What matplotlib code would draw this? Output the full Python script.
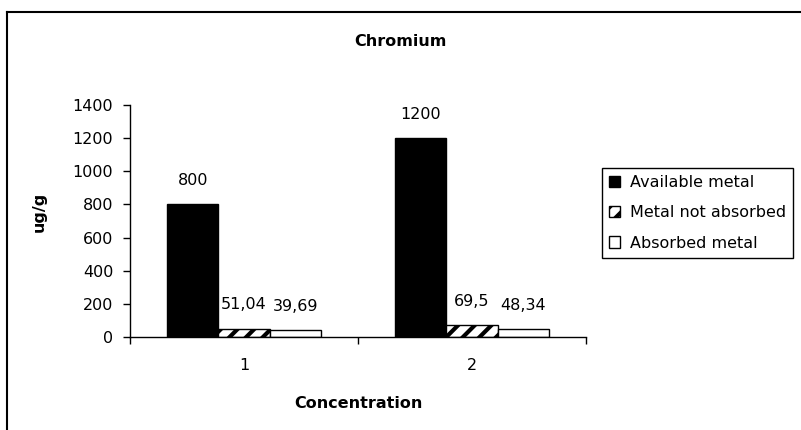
import matplotlib.pyplot as plt
import numpy as np

plt.rcParams['font.family'] = ['DejaVu Sans']
plt.rcParams['hatch.linewidth'] = 3

# Data
categories = ['1', '2']
available = [800, 1200]
not_absorbed = [51.04, 69.5]
absorbed = [39.69, 48.34]
series_names = ['Available metal', 'Metal not absorbed', 'Absorbed metal']

fig = plt.figure(figsize=(8.01, 4.30), dpi=100)
W, H = 801.0, 430.0
fs = 11.5

# Axes placed to match the reference (pixel coords)
ax = fig.add_axes([130 / W, (H - 337) / H, (586 - 130) / W, (337 - 105) / H])

x = np.arange(len(categories))
w = 0.224

b1 = ax.bar(x - w, available, w, color='black', edgecolor='black', linewidth=1, label=series_names[0])
b2 = ax.bar(x, not_absorbed, w, color='white', edgecolor='black', hatch='//', linewidth=1,
            label=series_names[1])
b3 = ax.bar(x + w, absorbed, w, color='white', edgecolor='black', linewidth=1, label=series_names[2])

# Data labels with comma decimals
for bars, vals in [(b1, available), (b2, not_absorbed), (b3, absorbed)]:
    for rect, v in zip(bars, vals):
        ax.annotate(f"{v:g}".replace('.', ','),
                    (rect.get_x() + rect.get_width() / 2, rect.get_height()),
                    xytext=(0, 17), textcoords='offset points',
                    ha='center', va='center', fontsize=fs)

ax.set_xlim(-0.5, 1.5)
ax.set_ylim(0, 1400)
ax.set_yticks(range(0, 1401, 200))
ax.set_xticks(x)
ax.set_xticklabels(categories, fontsize=fs)
ax.set_xticks([-0.5, 0.5, 1.5], minor=True)
ax.tick_params(axis='x', which='major', length=0, pad=15)
ax.tick_params(axis='x', which='minor', length=5, width=1, direction='out')
ax.tick_params(axis='y', length=5, width=1, labelsize=fs, pad=7)

for s in ['top', 'right']:
    ax.spines[s].set_visible(False)
for s in ['left', 'bottom']:
    ax.spines[s].set_linewidth(1)

ax.set_ylabel('ug/g', fontsize=fs, fontweight='bold')
ax.yaxis.set_label_coords((47 - 130) / (586 - 130), (337 - 212) / (337 - 105))
ax.set_xlabel('Concentration', fontsize=fs, fontweight='bold')
ax.xaxis.set_label_coords(0.5, -(403 - 337) / (337 - 105))
ax.xaxis.label.set_va('center')

fig.text(400 / W, 1 - 42 / H, 'Chromium', ha='center', va='center', fontsize=fs, fontweight='bold')

leg = fig.legend(handles=[b1, b2, b3], loc='upper left',
                 bbox_to_anchor=(602 / W, 1 - 168 / H), fontsize=fs,
                 handlelength=0.7, handleheight=0.7, handletextpad=0.6,
                 borderpad=0.45, labelspacing=0.95, borderaxespad=0,
                 fancybox=False, framealpha=1, edgecolor='black')
leg.get_frame().set_linewidth(1)

# Chart area border (top and left visible)
fig.add_artist(plt.Line2D([7 / W, 1.0], [1 - 12 / H, 1 - 12 / H], color='black', linewidth=1.5))
fig.add_artist(plt.Line2D([7 / W, 7 / W], [0.0, 1 - 12 / H], color='black', linewidth=1.5))

fig.savefig('out.png', dpi=100)
